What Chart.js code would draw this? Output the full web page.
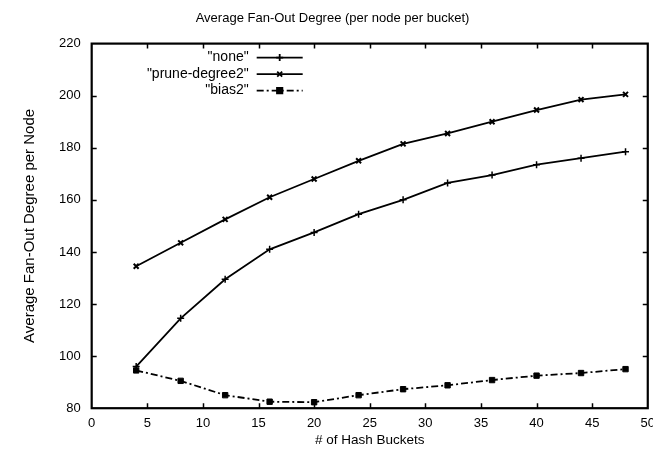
<!DOCTYPE html>
<html>
<head>
<meta charset="utf-8">
<script src="https://cdn.jsdelivr.net/npm/chart.js@4"></script>
<style>
  html, body { margin: 0; padding: 0; background: #fff; overflow: hidden; }
  #wrap { width: 653px; height: 451px; overflow: hidden; }
</style>
</head>
<body>
<div id="wrap"><canvas id="myChart" width="662" height="451"></canvas></div>
<script>
// hash bucket counts (x values)
const buckets = [4, 8, 12, 16, 20, 24, 28, 32, 36, 40, 44, 48];

// series
const noneVals   = [96, 114.5, 129.5, 141, 147.5, 154.5, 160, 166.5, 169.5, 173.5, 176, 178.5];
const pruneVals  = [134.5, 143.5, 152.5, 161, 168, 175, 181.5, 185.5, 190, 194.5, 198.5, 200.5];
const biasVals   = [94.5, 90.5, 85, 82.5, 82.3, 85, 87.3, 88.8, 90.8, 92.5, 93.5, 95];

const seriesNames = ['"none"', '"prune-degree2"', '"bias2"'];

const xTicks = { min: 0, max: 50, step: 5 };
const yTicks = { min: 80, max: 220, step: 20 };

const FONT = 'Liberation Sans, Arial, sans-serif';

function pts(vals) {
  return buckets.map((b, i) => ({ x: b, y: vals[i] }));
}

// box + inward ticks on all four sides, gnuplot style
const frameTicks = {
  id: 'frameTicks',
  afterDraw(chart) {
    const ctx = chart.ctx, a = chart.chartArea;
    const xs = chart.scales.x, ys = chart.scales.y;
    ctx.save();
    ctx.strokeStyle = '#000';
    ctx.lineWidth = 1.5;
    for (let v = xTicks.min + xTicks.step; v < xTicks.max; v += xTicks.step) {
      const px = Math.round(xs.getPixelForValue(v)) + 0.5;
      ctx.beginPath();
      ctx.moveTo(px, a.bottom); ctx.lineTo(px, a.bottom - 5);
      ctx.moveTo(px, a.top); ctx.lineTo(px, a.top + 5);
      ctx.stroke();
    }
    for (let v = yTicks.min + yTicks.step; v < yTicks.max; v += yTicks.step) {
      const py = Math.round(ys.getPixelForValue(v)) + 0.5;
      ctx.beginPath();
      ctx.moveTo(a.left, py); ctx.lineTo(a.left + 5, py);
      ctx.moveTo(a.right, py); ctx.lineTo(a.right - 5, py);
      ctx.stroke();
    }
    ctx.lineWidth = 2.2;
    ctx.strokeRect(a.left, a.top, a.right - a.left, a.bottom - a.top);
    ctx.restore();
  }
};

// legend inside plot, text right-aligned then a sample line
const keyBox = {
  id: 'keyBox',
  afterDraw(chart) {
    const ctx = chart.ctx, a = chart.chartArea;
    ctx.save();
    ctx.font = '14px ' + FONT;
    ctx.fillStyle = '#000';
    ctx.textAlign = 'right';
    ctx.textBaseline = 'middle';
    chart.data.datasets.forEach((ds, i) => {
      const y = a.top + 14 + i * 16.5;
      const textRight = a.left + 157;
      ctx.fillText(ds.label, textRight, y);
      const x0 = textRight + 8, x1 = x0 + 46;
      ctx.strokeStyle = '#000';
      ctx.lineWidth = ds.borderWidth;
      ctx.setLineDash(ds.borderDash || []);
      ctx.beginPath();
      ctx.moveTo(x0, y); ctx.lineTo(x1, y);
      ctx.stroke();
      ctx.setLineDash([]);
      const cx = (x0 + x1) / 2;
      Chart.helpers.drawPoint(ctx, {
        pointStyle: ds.pointStyle, radius: ds.pointRadius, borderWidth: 1.5, rotation: 0
      }, cx, y);
    });
    ctx.restore();
  }
};

const config = {
  type: 'line',
  data: {
    datasets: [
      {
        label: seriesNames[0], data: pts(noneVals),
        borderColor: '#000', backgroundColor: '#000', borderWidth: 1.8,
        pointStyle: 'cross', pointRadius: 3.5, pointBorderWidth: 1.5
      },
      {
        label: seriesNames[1], data: pts(pruneVals),
        borderColor: '#000', backgroundColor: '#000', borderWidth: 1.8,
        pointStyle: 'crossRot', pointRadius: 3.5, pointBorderWidth: 2
      },
      {
        label: seriesNames[2], data: pts(biasVals),
        borderColor: '#000', backgroundColor: '#000', borderWidth: 1.8,
        borderDash: [7, 3, 2, 3],
        pointStyle: 'rect', pointRadius: 3.8, pointBorderWidth: 1
      }
    ]
  },
  options: {
    responsive: false,
    animation: false,
    layout: { padding: { left: 3, right: 0, top: 0, bottom: 3 } },
    plugins: {
      legend: { display: false },
      tooltip: { enabled: false },
      title: {
        display: true,
        text: 'Average Fan-Out Degree (per node per bucket)',
        color: '#000',
        font: { family: FONT, size: 13, weight: 'normal' },
        padding: { top: 11, bottom: 17 }
      }
    },
    scales: {
      x: {
        type: 'linear', min: xTicks.min, max: xTicks.max,
        grid: { display: false, drawTicks: false },
        border: { display: false },
        ticks: { stepSize: xTicks.step, color: '#000', padding: 7, font: { family: FONT, size: 13 }, maxRotation: 0 },
        title: { display: true, text: '# of Hash Buckets', color: '#000', font: { family: FONT, size: 13.5 }, padding: { top: -6, bottom: 0 } }
      },
      y: {
        min: yTicks.min, max: yTicks.max,
        grid: { display: false, drawTicks: false },
        border: { display: false },
        ticks: { stepSize: yTicks.step, color: '#000', padding: 11, font: { family: FONT, size: 13 } },
        title: { display: true, text: 'Average Fan-Out Degree per Node', color: '#000', font: { family: FONT, size: 15 }, padding: { top: 18, bottom: 9 } }
      }
    }
  },
  plugins: [frameTicks, keyBox]
};

const myChart = new Chart(document.getElementById('myChart'), config);
</script>
</body>
</html>
